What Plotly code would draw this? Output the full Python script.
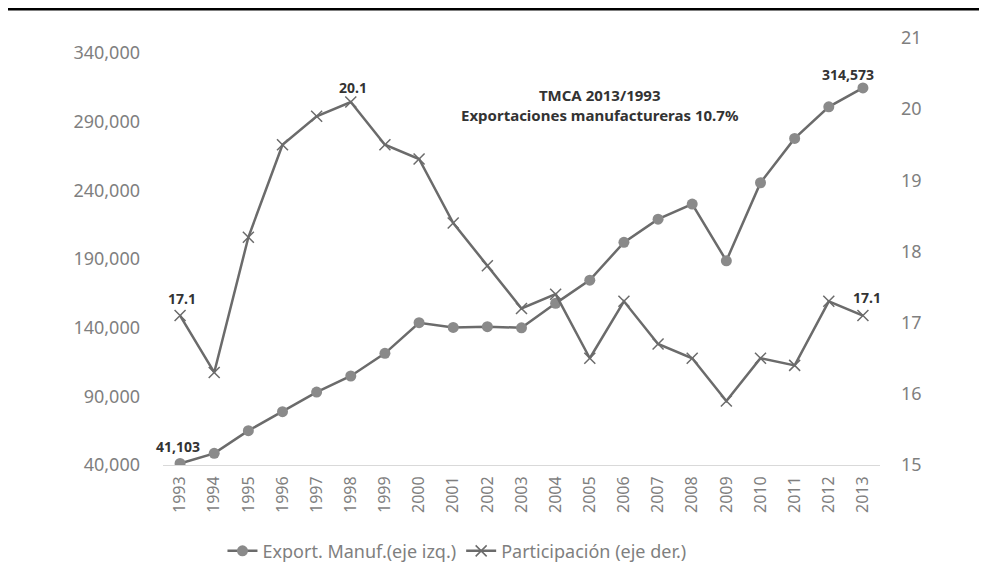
import plotly.graph_objects as go

# datos
years = [str(y) for y in range(1993, 2014)]
export_manuf = [41103, 48500, 65000, 78800, 93100, 104800, 121300, 143600, 140200, 140700,
                139900, 157700, 174600, 202100, 219000, 230000, 188700, 245500, 277800, 300800,
                314573]
participacion = [17.1, 16.3, 18.2, 19.5, 19.9, 20.1, 19.5, 19.3, 18.4, 17.8,
                 17.2, 17.4, 16.5, 17.3, 16.7, 16.5, 15.9, 16.5, 16.4, 17.3, 17.1]
left_ticks = [40000, 90000, 140000, 190000, 240000, 290000, 340000]
right_ticks = [15, 16, 17, 18, 19, 20, 21]

FONT = "Noto Sans"
GRIS = "#7f7f7f"
LINEA = "#6b6b6b"

fig = go.Figure()

fig.add_trace(
    go.Scatter(
        x=years,
        y=export_manuf,
        name="Export. Manuf.(eje izq.)",
        mode="lines+markers",
        line=dict(color=LINEA, width=2.5),
        marker=dict(symbol="circle", size=11, color="#8a8a8a"),
        yaxis="y",
    )
)

fig.add_trace(
    go.Scatter(
        x=years,
        y=participacion,
        name="Participación (eje der.)",
        mode="lines+markers",
        line=dict(color=LINEA, width=2.5),
        marker=dict(symbol="x-thin", size=11, line=dict(color=LINEA, width=1.5)),
        yaxis="y2",
    )
)

# etiquetas de datos (x como índice de categoría)
i_max = participacion.index(max(participacion))
n = len(years) - 1
labels = [
    dict(x=0, y=export_manuf[0], yref="y", text=f"{export_manuf[0]:,}", xshift=-2, yshift=17),
    dict(x=n, y=export_manuf[-1], yref="y", text=f"{export_manuf[-1]:,}", xshift=-15, yshift=13),
    dict(x=0, y=participacion[0], yref="y2", text=f"{participacion[0]:.1f}", xshift=2, yshift=17),
    dict(x=i_max, y=participacion[i_max], yref="y2", text=f"{participacion[i_max]:.1f}", xshift=2, yshift=15),
    dict(x=n, y=participacion[-1], yref="y2", text=f"{participacion[-1]:.1f}", xshift=4, yshift=18),
]
for lab in labels:
    fig.add_annotation(
        xref="x",
        showarrow=False,
        font=dict(family=FONT, size=14, color="#333333", weight="bold"),
        **lab,
    )

fig.add_annotation(
    xref="paper", yref="paper", x=0.6095, y=0.842, yanchor="middle",
    text="TMCA 2013/1993<br>Exportaciones manufactureras 10.7%",
    showarrow=False, align="center",
    font=dict(family=FONT, size=15, color="#333333", weight="bold"),
)

# línea negra superior
fig.add_shape(
    type="line", xref="paper", yref="paper",
    x0=-0.222, x1=1.15, y0=1.0678, y1=1.0678,
    line=dict(color="black", width=3),
)

fig.update_layout(
    width=979,
    height=573,
    margin=dict(l=155, r=107, t=30, b=115),
    paper_bgcolor="white",
    plot_bgcolor="white",
    font=dict(family=FONT, color=GRIS),
    showlegend=True,
    legend=dict(
        orientation="h", x=0.41, xanchor="center", y=-0.199, yanchor="middle",
        font=dict(family=FONT, size=18, color=GRIS), itemwidth=30,
    ),
    xaxis=dict(
        type="category", range=[-0.5, 20.5], tickangle=-90,
        tickfont=dict(size=16, color=GRIS), showgrid=False,
        showline=True, linecolor="#d9d9d9", linewidth=1, ticks="",
        ticklabelstandoff=4,
    ),
    yaxis=dict(
        range=[40000, 350900], tickvals=left_ticks, tickformat=",",
        tickfont=dict(size=18, color=GRIS), showgrid=False, zeroline=False,
        ticklabelstandoff=22,
    ),
    yaxis2=dict(
        range=[15, 21], tickvals=right_ticks, overlaying="y", side="right",
        tickfont=dict(size=18, color=GRIS), showgrid=False, zeroline=False,
        ticklabelstandoff=20,
    ),
)

fig.write_html("out.html")
